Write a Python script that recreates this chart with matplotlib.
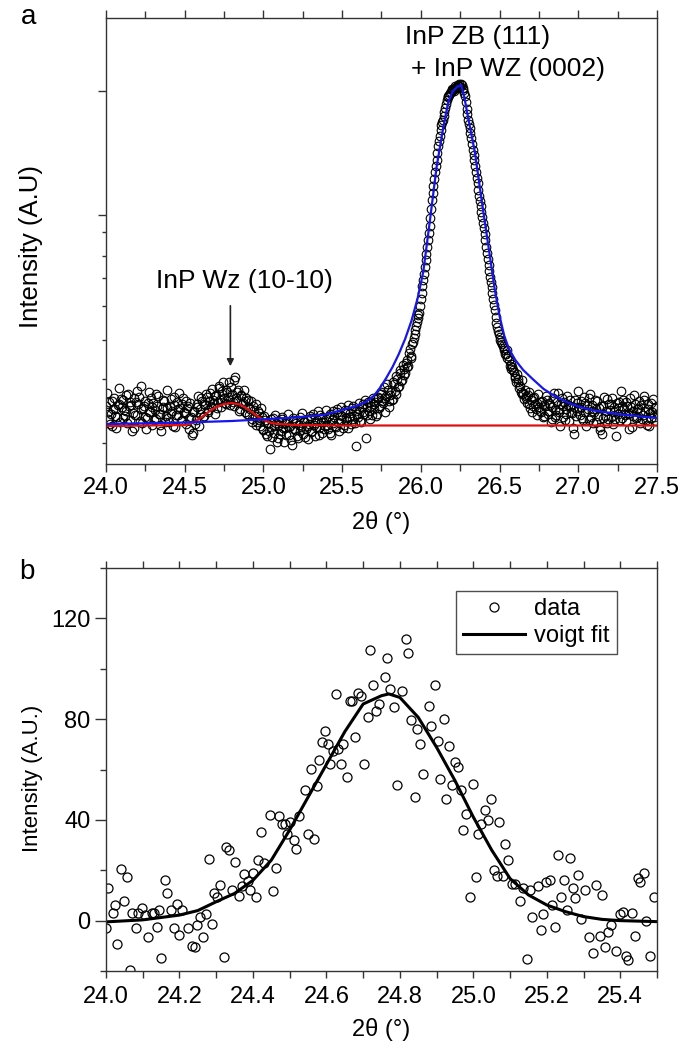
import numpy as np
import matplotlib
matplotlib.use("Agg")
import matplotlib.pyplot as plt
from matplotlib.ticker import MultipleLocator, FixedLocator, NullFormatter, FormatStrFormatter

plt.rcParams['font.family'] = ['Liberation Sans', 'DejaVu Sans']

# ---- panel a : full XRD scan (intensity in arbitrary units) ----
scan_start, scan_step = 24.0, 0.005
scan_counts = [
    58, 71, 45, 52, 62, 40, 50, 63, 38, 55, 66, 48, 55, 36, 47, 59, 60, 76, 42, 65,
    57, 46, 64, 54, 48, 69, 53, 41, 70, 58, 44, 62, 59, 33, 51, 66, 36, 49, 62, 73,
    49, 60, 67, 43, 55, 78, 41, 56, 58, 47, 63, 35, 46, 61, 72, 52, 52, 66, 39, 57,
    61, 44, 54, 70, 45, 58, 68, 50, 50, 39, 33, 55, 57, 64, 63, 42, 48, 74, 56, 46,
    42, 58, 65, 51, 53, 38, 59, 67, 37, 49, 62, 55, 49, 71, 56, 43, 44, 60, 66, 52,
    51, 63, 40, 56, 58, 46, 35, 61, 47, 29, 31, 52, 53, 40, 44, 57, 60, 68, 38, 50,
    55, 66, 63, 47, 48, 60, 59, 70, 67, 54, 52, 63, 71, 57, 58, 75, 64, 61, 50, 68,
    69, 56, 62, 76, 78, 64, 57, 70, 73, 82, 66, 61, 60, 74, 72, 67, 82, 59, 64, 77,
    70, 62, 58, 84, 87, 66, 63, 72, 74, 53, 55, 69, 68, 60, 61, 74, 52, 63, 66, 50,
    57, 64, 49, 55, 63, 42, 45, 58, 54, 48, 60, 39, 42, 53, 51, 44, 38, 56, 47, 34,
    35, 48, 44, 30, 28, 41, 40, 33, 15, 45, 37, 27, 46, 38, 31, 49, 41, 22, 26, 43,
    39, 30, 33, 47, 45, 36, 22, 41, 36, 29, 42, 50, 29, 37, 38, 24, 19, 46, 44, 35,
    34, 43, 41, 28, 26, 39, 47, 33, 37, 51, 30, 42, 43, 27, 35, 45, 25, 38, 40, 48,
    46, 32, 33, 50, 39, 41, 28, 37, 44, 53, 36, 29, 49, 42, 31, 47, 42, 35, 38, 54,
    45, 39, 35, 48, 50, 31, 29, 44, 41, 53, 47, 38, 37, 55, 52, 42, 33, 49, 44, 57,
    48, 36, 39, 52, 54, 46, 43, 59, 36, 47, 51, 40, 45, 56, 58, 48, 41, 53, 18, 50,
    47, 61, 55, 43, 42, 57, 60, 52, 50, 64, 26, 49, 57, 62, 53, 45, 62, 58, 49, 66,
    55, 60, 62, 48, 50, 67, 66, 56, 58, 72, 70, 63, 61, 77, 52, 66, 68, 80, 74, 63,
    57, 69, 72, 64, 65, 82, 80, 73, 70, 88, 85, 77, 78, 94, 91, 83, 84, 99, 95, 89,
    91, 101, 104, 97, 98, 111, 115, 106, 108, 120, 122, 126, 130, 134, 138, 142, 146, 149, 151, 158,
    165, 171, 178, 184, 190, 197, 204, 210, 217, 224, 231, 238, 246, 255, 264, 271, 278, 285, 292, 298,
    304, 311, 318, 323, 328, 334, 339, 342, 344, 348, 352, 356, 360, 364, 367, 368, 369, 371, 372, 374,
    375, 374, 373, 376, 378, 377, 376, 379, 380, 378, 377, 380, 379, 376, 374, 371, 368, 362, 355, 350,
    344, 340, 336, 331, 326, 320, 314, 309, 304, 298, 292, 286, 281, 274, 268, 263, 258, 252, 247, 241,
    236, 230, 224, 217, 211, 205, 199, 193, 187, 182, 177, 171, 165, 159, 154, 147, 141, 137, 133, 130,
    127, 124, 122, 120, 118, 116, 114, 110, 110, 106, 114, 108, 104, 98, 100, 95, 97, 94, 92, 86,
    88, 82, 90, 85, 82, 76, 78, 72, 84, 70, 71, 65, 74, 68, 66, 61, 69, 72, 60, 56,
    64, 52, 58, 66, 67, 60, 55, 49, 61, 70, 57, 53, 52, 62, 63, 47, 48, 59, 58, 68,
    64, 53, 50, 61, 59, 42, 45, 57, 66, 71, 54, 47, 49, 62, 71, 55, 52, 38, 60, 66,
    47, 58, 62, 44, 55, 50, 68, 59, 43, 64, 58, 52, 51, 36, 30, 57, 64, 48, 53, 61,
    73, 56, 49, 63, 57, 46, 44, 67, 61, 52, 38, 59, 55, 44, 66, 70, 47, 53, 59, 41,
    52, 64, 42, 55, 63, 48, 56, 37, 34, 58, 30, 46, 58, 67, 48, 53, 65, 41, 45, 60,
    54, 47, 60, 66, 40, 52, 57, 45, 28, 61, 50, 56, 62, 44, 73, 58, 46, 64, 55, 49,
    43, 62, 58, 50, 51, 35, 66, 57, 37, 48, 53, 69, 60, 46, 47, 55, 56, 63, 41, 52,
    59, 45, 49, 68, 64, 53, 44, 39, 55, 60, 38, 51, 61, 46, 52, 65, 47, 56, 57, 43,
    50,
]

# main peak fit (ZB 111 + WZ 0002)
main_fit_x = [24.0, 24.5, 24.8, 25.0, 25.2, 25.38, 25.5, 25.59, 25.65, 25.7,
              25.74, 25.78, 25.82, 25.86, 25.9, 25.94, 25.98, 26.015, 26.058, 26.10,
              26.143, 26.174, 26.2, 26.23, 26.255, 26.275, 26.291, 26.344, 26.386, 26.43,
              26.47, 26.5, 26.53, 26.56, 26.6, 26.65, 26.71, 26.78, 26.86, 26.94,
              27.01, 27.1, 27.25, 27.4, 27.5]
main_fit_y = [40, 41.5, 43, 44.7, 46.5, 49, 54, 58, 62, 68,
              76, 86, 97, 110, 125, 143, 166, 192, 244, 297,
              337, 362, 372, 377, 379, 368, 354, 311, 264, 217,
              174, 148, 128, 115, 104, 94, 85, 75, 67, 61,
              57, 53.5, 50, 47.5, 46]

# small WZ (10-10) peak fit
wz_fit_x = [24.0, 24.5, 24.55, 24.6, 24.65, 24.7, 24.75, 24.8, 24.85, 24.9,
            24.95, 25.0, 25.05, 25.1, 25.2, 25.5, 27.5]
wz_fit_y = [38, 39, 41, 46, 52, 57, 60, 61, 59.5, 55,
            49, 44, 41, 40, 39, 38.5, 38.5]

# ---- panel b : zoom on the WZ (10-10) peak ----
b_x = [24.006, 24.0, 24.018, 24.024, 24.03, 24.041, 24.048, 24.057, 24.064, 24.07,
       24.081, 24.087, 24.097, 24.105, 24.114, 24.124, 24.132, 24.138, 24.145, 24.151,
       24.161, 24.167, 24.177, 24.184, 24.192, 24.199, 24.208, 24.223, 24.235, 24.241,
       24.248, 24.257, 24.265, 24.271, 24.281, 24.288, 24.295, 24.303, 24.311, 24.32,
       24.328, 24.335, 24.344, 24.351, 24.361, 24.369, 24.375, 24.386, 24.392, 24.399,
       24.407, 24.414, 24.422, 24.431, 24.446, 24.455, 24.463, 24.471, 24.478, 24.487,
       24.493, 24.501, 24.511, 24.518, 24.525, 24.541, 24.549, 24.559, 24.567, 24.574,
       24.581, 24.588, 24.596, 24.603, 24.61, 24.617, 24.626, 24.631, 24.639, 24.646,
       24.656, 24.663, 24.671, 24.678, 24.686, 24.695, 24.702, 24.712, 24.72, 24.727,
       24.735, 24.743, 24.759, 24.766, 24.774, 24.783, 24.791, 24.807, 24.816, 24.823,
       24.831, 24.84, 24.847, 24.856, 24.864, 24.878, 24.886, 24.896, 24.904, 24.91,
       24.919, 24.926, 24.935, 24.943, 24.95, 24.959, 24.966, 24.973, 24.98, 24.99,
       24.998, 25.007, 25.013, 25.022, 25.031, 25.04, 25.048, 25.056, 25.064, 25.071,
       25.08, 25.087, 25.094, 25.104, 25.113, 25.126, 25.136, 25.145, 25.153, 25.16,
       25.177, 25.183, 25.191, 25.198, 25.208, 25.214, 25.223, 25.23, 25.238, 25.247,
       25.255, 25.262, 25.27, 25.277, 25.286, 25.293, 25.304, 25.316, 25.326, 25.334,
       25.344, 25.349, 25.358, 25.367, 25.376, 25.389, 25.398, 25.407, 25.415, 25.422,
       25.431, 25.439, 25.447, 25.453, 25.464, 25.47, 25.48, 25.492]
b_y = [12.8, -3, 2.9, 6.2, -9.4, 20.3, 7.9, 17.4, -19.5, 2.9,
       -3, 2.9, 4.9, 2.2, -6.6, 2.9, 3.2, -2.6, 4.2, -14.9,
       16.1, 11.1, 4.2, -3, 6.6, -5.7, 4.2, -2.8, -10, -10.3,
       -1.7, 1.6, -6.6, 2.6, 24.3, -1.5, 11.1, 9.5, 14.1, -14.6,
       29.3, 28.2, 12.1, 23.1, 9.8, 13.7, 18.7, 15.7, 12.1, 19,
       9.5, 24, 35.2, 22.7, 41.8, 11.9, 20.7, 41.4, 38.5, 38.5,
       34.5, 39.2, 31.9, 28.6, 41.4, 51.7, 34.5, 60.3, 32.6, 53.3,
       63.6, 70.8, 75.4, 70.1, 62.2, 67.5, 89.9, 68.2, 62.2, 70.1,
       57, 87.3, 87.3, 72.8, 90.2, 89.3, 62, 80.7, 107.3, 93.6,
       83.3, 86, 96.9, 104.4, 91.9, 84.9, 53.7, 91, 112, 106.2,
       79.8, 49.1, 76.1, 70.2, 58.3, 85.3, 77.4, 93.6, 71.5, 56.3,
       80, 48.4, 69.5, 53.7, 62.9, 60.9, 51.7, 35.9, 42.2, 9.5,
       54.1, 17.4, 34.5, 38.5, 43.8, 40.1, 48.4, 20, 17.8, 39.2,
       17.7, 30.6, 24, 14.5, 14.5, 7.8, 12.8, -15.3, 12.1, 1.3,
       13.7, -3.7, 2.6, 15.4, 16.1, 6.2, -2.4, 26, 9.2, 16.1,
       4.2, 24.7, 13.1, 8.8, 18.1, 0.5, 12.1, -6.6, -12.7, 14.1,
       -6.3, 10.2, -10.5, -4.4, -1.7, -11.9, 2.6, 3.3, -14, -15.6,
       2.9, -6.1, 17.1, 15.4, 19, 0, -14.2, 9.2]

voigt_x = [24.0, 24.1, 24.2, 24.25, 24.3, 24.35, 24.4, 24.45, 24.5, 24.55,
           24.6, 24.65, 24.7, 24.75, 24.77, 24.8, 24.85, 24.9, 24.95, 25.0,
           25.05, 25.1, 25.15, 25.2, 25.25, 25.3, 25.35, 25.4, 25.5]
voigt_y = [-0.5, 0.3, 2.2, 4, 7.5, 10.8, 16, 24, 36, 49,
           62, 75, 86, 89.3, 90, 88.6, 80.7, 68.8, 55.6, 41.1,
           28, 16.7, 10.2, 6.2, 3.6, 1.6, 0.5, 0, -0.4]

AX_COL = '#333333'
FS = 17

fig = plt.figure(figsize=(6.97, 10.48), dpi=100)
W, H = 697.0, 1048.0
ax1 = fig.add_axes([106 / W, 1 - 464 / H, 551 / W, 446 / H])
ax2 = fig.add_axes([106 / W, 1 - 971 / H, 551 / W, 403 / H])

# panel a
scan_x = scan_start + scan_step * np.arange(len(scan_counts))
ax1.plot(scan_x, scan_counts, 'o', mfc='none', mec='black', ms=6.2, mew=0.8)
ax1.plot(wz_fit_x, wz_fit_y, color='#e01010', lw=1.6)
ax1.plot(main_fit_x, main_fit_y, color='#1515ee', lw=1.6)
ax1.set_xlim(24.0, 27.5)
ax1.set_ylim(0, 446)
ax1.xaxis.set_major_locator(MultipleLocator(0.5))
ax1.xaxis.set_minor_locator(MultipleLocator(0.25))
ax1.yaxis.set_major_locator(FixedLocator([249, 373]))
ax1.yaxis.set_minor_locator(FixedLocator([21, 85, 124, 158, 186, 208, 232]))
ax1.yaxis.set_major_formatter(NullFormatter())
ax1.xaxis.set_major_formatter(FormatStrFormatter('%.1f'))
ax1.tick_params(axis='x', which='both', direction='out', top=True, colors=AX_COL,
                labelcolor='black', labelsize=FS)
ax1.tick_params(axis='x', which='major', length=6, width=1, pad=3)
ax1.tick_params(axis='x', which='minor', length=5, width=1)
ax1.tick_params(axis='y', which='major', direction='out', length=6, width=1, colors=AX_COL)
ax1.tick_params(axis='y', which='minor', direction='out', length=3, width=1, colors=AX_COL)
ax1.set_xlabel('2θ (°)', fontsize=FS)
ax1.xaxis.set_label_coords(0.5, -0.105)
ax1.set_ylabel('Intensity (A.U)', fontsize=18.5)
ax1.yaxis.set_label_coords(-0.114, 0.487)
ax1.annotate('', xy=(24.79, 95), xytext=(24.79, 161),
             arrowprops=dict(arrowstyle='-|>', color='#222222', lw=1.2, mutation_scale=10))
ax1.text(24.877, 183, 'InP Wz (10-10)', ha='center', va='center', fontsize=19)
ax1.text(26.36, 427, 'InP ZB (111)', ha='center', va='center', fontsize=19)
ax1.text(26.553, 395, '+ InP WZ (0002)', ha='center', va='center', fontsize=19)

# panel b
ax2.plot(b_x, b_y, 'o', mfc='none', mec='black', ms=6.5, mew=0.9, label='data')
ax2.plot(voigt_x, voigt_y, color='black', lw=2.2, label='voigt fit')
ax2.set_xlim(24.0, 25.5)
ax2.set_ylim(-20, 140)
ax2.xaxis.set_major_locator(MultipleLocator(0.2))
ax2.xaxis.set_minor_locator(MultipleLocator(0.1))
ax2.yaxis.set_major_locator(MultipleLocator(40))
ax2.yaxis.set_minor_locator(MultipleLocator(20))
ax2.xaxis.set_major_formatter(FormatStrFormatter('%.1f'))
ax2.tick_params(axis='x', which='both', direction='out', top=True, colors=AX_COL,
                labelcolor='black', labelsize=FS)
ax2.tick_params(axis='x', which='major', length=5, width=1, pad=6)
ax2.tick_params(axis='x', which='minor', length=5, width=1)
ax2.tick_params(axis='y', which='both', direction='out', colors=AX_COL,
                labelcolor='black', labelsize=FS)
ax2.tick_params(axis='y', which='major', length=8, width=1, pad=3)
ax2.tick_params(axis='y', which='minor', length=4, width=1)
ax2.set_xlabel('2θ (°)', fontsize=FS)
ax2.xaxis.set_label_coords(0.5, -0.117)
ax2.set_ylabel('Intensity (A.U.)', fontsize=16)
ax2.yaxis.set_label_coords(-0.114, 0.479)
leg = ax2.legend(loc='upper right', bbox_to_anchor=(0.927, 0.943), fontsize=FS,
                 frameon=True, fancybox=False, handlelength=2.6, handletextpad=0.4,
                 borderpad=0.3, labelspacing=0.2, borderaxespad=0)
leg.get_frame().set_edgecolor('#222222')
leg.get_frame().set_linewidth(1.0)

for ax in (ax1, ax2):
    for sp in ax.spines.values():
        sp.set_color(AX_COL)
        sp.set_linewidth(1.0)

fig.text(29 / W, 1 - 17 / H, 'a', ha='center', va='center', fontsize=20)
fig.text(27 / W, 1 - 572 / H, 'b', ha='center', va='center', fontsize=20)

fig.savefig('out.png', dpi=100)
